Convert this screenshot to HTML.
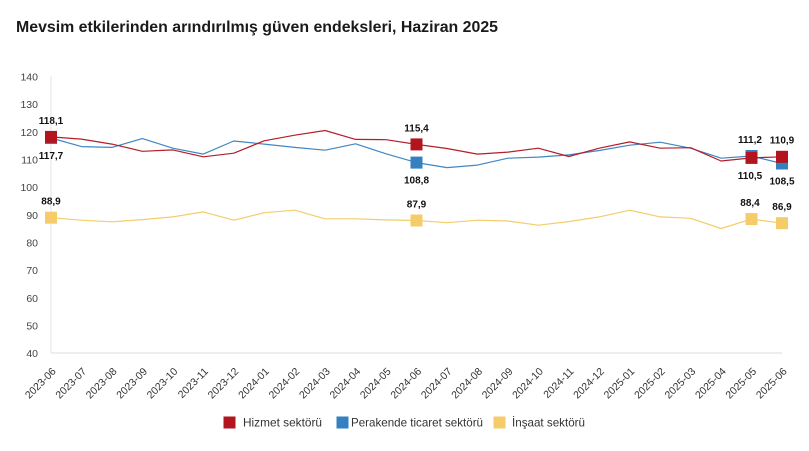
<!DOCTYPE html>
<html>
<head>
<meta charset="utf-8">
<style>
html,body{margin:0;padding:0;background:#fff;}
svg{display:block;}
text{font-family:"Liberation Sans",Arial,sans-serif;}
</style>
</head>
<body>
<svg width="809" height="451" viewBox="0 0 809 451" xmlns="http://www.w3.org/2000/svg">
<rect width="809" height="451" fill="#fff"/>
<text x="16" y="32" font-size="15.5" font-weight="bold" fill="#1a1a1a" textLength="482" lengthAdjust="spacingAndGlyphs">Mevsim etkilerinden arındırılmış güven endeksleri, Haziran 2025</text>

<!-- axes -->
<line x1="51" y1="76" x2="51" y2="353" stroke="#e3e3e3" stroke-width="1"/>
<line x1="51" y1="353" x2="782" y2="353" stroke="#dcdcdc" stroke-width="1"/>

<!-- y labels -->
<g font-size="10.5" fill="#444" text-anchor="end">
<text x="38" y="80.5">140</text>
<text x="38" y="108.2">130</text>
<text x="38" y="135.8">120</text>
<text x="38" y="163.5">110</text>
<text x="38" y="191.2">100</text>
<text x="38" y="218.9">90</text>
<text x="38" y="246.5">80</text>
<text x="38" y="274.2">70</text>
<text x="38" y="301.9">60</text>
<text x="38" y="329.6">50</text>
<text x="38" y="357.2">40</text>
</g>

<!-- x labels -->
<g font-size="10.5" fill="#333" text-anchor="end">
<text transform="translate(56.5,372) rotate(-45)">2023-06</text>
<text transform="translate(87,372) rotate(-45)">2023-07</text>
<text transform="translate(117.4,372) rotate(-45)">2023-08</text>
<text transform="translate(147.9,372) rotate(-45)">2023-09</text>
<text transform="translate(178.3,372) rotate(-45)">2023-10</text>
<text transform="translate(208.8,372) rotate(-45)">2023-11</text>
<text transform="translate(239.2,372) rotate(-45)">2023-12</text>
<text transform="translate(269.7,372) rotate(-45)">2024-01</text>
<text transform="translate(300.2,372) rotate(-45)">2024-02</text>
<text transform="translate(330.6,372) rotate(-45)">2024-03</text>
<text transform="translate(361.1,372) rotate(-45)">2024-04</text>
<text transform="translate(391.5,372) rotate(-45)">2024-05</text>
<text transform="translate(422,372) rotate(-45)">2024-06</text>
<text transform="translate(452.5,372) rotate(-45)">2024-07</text>
<text transform="translate(482.9,372) rotate(-45)">2024-08</text>
<text transform="translate(513.4,372) rotate(-45)">2024-09</text>
<text transform="translate(543.8,372) rotate(-45)">2024-10</text>
<text transform="translate(574.3,372) rotate(-45)">2024-11</text>
<text transform="translate(604.8,372) rotate(-45)">2024-12</text>
<text transform="translate(635.2,372) rotate(-45)">2025-01</text>
<text transform="translate(665.7,372) rotate(-45)">2025-02</text>
<text transform="translate(696.1,372) rotate(-45)">2025-03</text>
<text transform="translate(726.6,372) rotate(-45)">2025-04</text>
<text transform="translate(757,372) rotate(-45)">2025-05</text>
<text transform="translate(787.5,372) rotate(-45)">2025-06</text>
</g>

<!-- yellow series -->
<polyline fill="none" stroke="#F3CD6C" stroke-width="1.2" stroke-linejoin="round" points="51,217.7 81.46,220.2 111.92,221.8 142.37,219.6 172.83,216.9 203.29,211.9 233.75,220.2 264.21,212.7 294.67,210.2 325.12,218.8 355.58,218.8 386.04,219.9 416.5,220.5 446.96,222.7 477.42,220.2 507.87,221 538.33,225.2 568.79,221.6 599.25,216.9 629.71,210.2 660.17,216.9 690.62,218.3 721.08,228.5 751.54,219.1 782,223.2"/>
<!-- blue series -->
<polyline fill="none" stroke="#4286C2" stroke-width="1.2" stroke-linejoin="round" points="51,138 81.46,146.6 111.92,147.4 142.37,138.6 172.83,148.2 203.29,154.1 233.75,141 264.21,144.1 294.67,147.4 325.12,150.2 355.58,143.8 386.04,153.8 416.5,162.6 446.96,167.6 477.42,165.1 507.87,158.2 538.33,157.1 568.79,154.9 599.25,150.5 629.71,145.2 660.17,142.2 690.62,148.2 721.08,158.2 751.54,156 782,163.5"/>
<!-- red series -->
<polyline fill="none" stroke="#B31E2A" stroke-width="1.2" stroke-linejoin="round" points="51,136.9 81.46,139.1 111.92,144.1 142.37,151.3 172.83,149.9 203.29,156.8 233.75,153.2 264.21,140.8 294.67,135.2 325.12,130.5 355.58,139.4 386.04,139.7 416.5,144.4 446.96,148.5 477.42,154.1 507.87,152.1 538.33,148.2 568.79,156.5 599.25,148.2 629.71,141.9 660.17,148.2 690.62,147.7 721.08,161 751.54,157.9 782,156.8"/>

<!-- markers yellow -->
<g fill="#F6CB69">
<rect x="45" y="211.7" width="12" height="12"/>
<rect x="410.5" y="214.5" width="12" height="12"/>
<rect x="745.5" y="213.1" width="12" height="12"/>
<rect x="776" y="217.2" width="12" height="12"/>
</g>
<!-- markers blue -->
<g fill="#3480C0">
<rect x="45" y="132" width="12" height="12"/>
<rect x="410.5" y="156.6" width="12" height="12"/>
<rect x="745.5" y="150" width="12" height="12"/>
<rect x="776" y="157.5" width="12" height="12"/>
</g>
<!-- markers red -->
<g fill="#B2151E">
<rect x="45" y="130.9" width="12" height="12"/>
<rect x="410.5" y="138.4" width="12" height="12"/>
<rect x="745.5" y="151.9" width="12" height="12"/>
<rect x="776" y="150.8" width="12" height="12"/>
</g>

<!-- data labels -->
<g font-size="10" font-weight="bold" fill="#111" text-anchor="middle">
<text x="51" y="124">118,1</text>
<text x="51" y="159">117,7</text>
<text x="416.5" y="131.5">115,4</text>
<text x="416.5" y="183.6">108,8</text>
<text x="750" y="143">111,2</text>
<text x="750" y="179">110,5</text>
<text x="782" y="143.5">110,9</text>
<text x="782" y="184.5">108,5</text>
<text x="51" y="204.7">88,9</text>
<text x="416.5" y="207.5">87,9</text>
<text x="750" y="206">88,4</text>
<text x="782" y="210">86,9</text>
</g>

<!-- legend -->
<rect x="223.5" y="416.5" width="12" height="12" fill="#B2151E"/>
<text x="243" y="426.5" font-size="12" fill="#333" textLength="79" lengthAdjust="spacingAndGlyphs">Hizmet sektörü</text>
<rect x="336.5" y="416.5" width="12" height="12" fill="#3480C0"/>
<text x="351" y="426.5" font-size="12" fill="#333" textLength="132" lengthAdjust="spacingAndGlyphs">Perakende ticaret sektörü</text>
<rect x="493.5" y="416.5" width="12" height="12" fill="#F6CB69"/>
<text x="512" y="426.5" font-size="12" fill="#333" textLength="73" lengthAdjust="spacingAndGlyphs">İnşaat sektörü</text>
</svg>
</body>
</html>
